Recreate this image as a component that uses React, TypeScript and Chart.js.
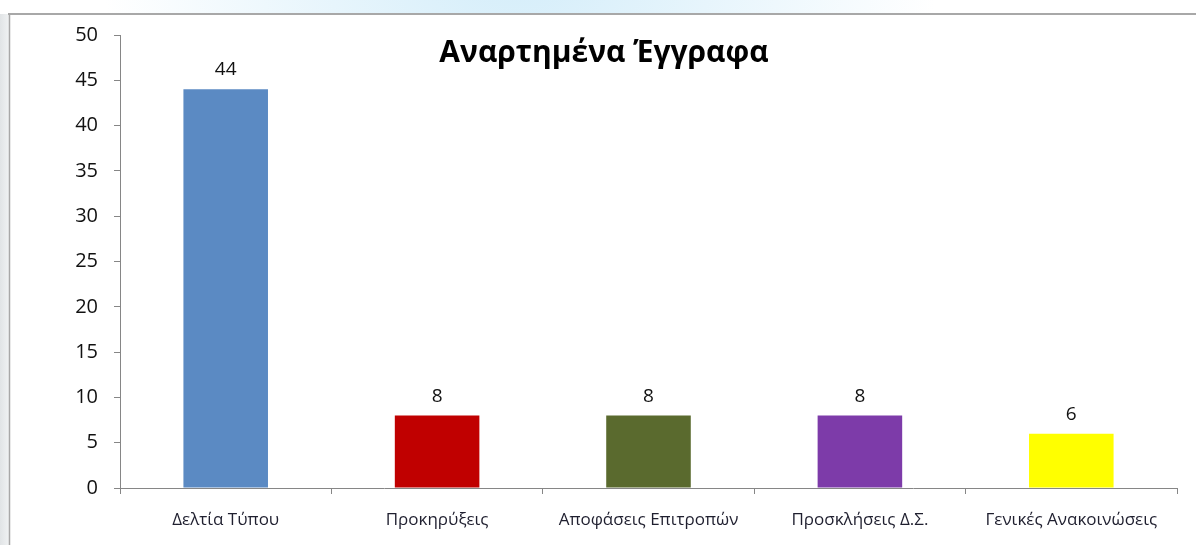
import React, { useEffect, useRef } from "react";
import { Chart, registerables } from "chart.js";

Chart.register(...registerables);

const title = "Αναρτημένα Έγγραφα";
const categories = [
  "Δελτία Τύπου",
  "Προκηρύξεις",
  "Αποφάσεις Επιτροπών",
  "Προσκλήσεις Δ.Σ.",
  "Γενικές Ανακοινώσεις",
];
const values = [44, 8, 8, 8, 6];
const barColors = ["#5B8AC3", "#C00000", "#5A6A2E", "#7D3BA9", "#FFFF00"];
const yMin = 0;
const yMax = 50;
const yStep = 5;

const FONT = "'Open Sans', 'Noto Sans', sans-serif";

const backgroundPlugin = {
  id: "bgDecor",
  beforeDraw(chart: any) {
    const ctx = chart.ctx;
    const w = chart.width;
    const h = chart.height;
    ctx.save();
    ctx.fillStyle = "#ffffff";
    ctx.fillRect(0, 0, w, h);
    const g = ctx.createRadialGradient(520, -60, 40, 520, -60, 420);
    g.addColorStop(0, "rgba(214,238,250,1)");
    g.addColorStop(1, "rgba(214,238,250,0)");
    ctx.fillStyle = g;
    ctx.fillRect(0, 0, w, 14);
    const g2 = ctx.createLinearGradient(0, 0, 9, 0);
    g2.addColorStop(0, "rgba(225,228,230,1)");
    g2.addColorStop(1, "rgba(240,242,243,1)");
    ctx.fillStyle = g2;
    ctx.fillRect(0, 14, 9, h - 14);
    ctx.strokeStyle = "#a8a8a8";
    ctx.lineWidth = 2;
    ctx.beginPath();
    ctx.moveTo(8, 14);
    ctx.lineTo(w, 14);
    ctx.stroke();
    ctx.lineWidth = 1.5;
    ctx.beginPath();
    ctx.moveTo(9.5, 13);
    ctx.lineTo(9.5, h);
    ctx.stroke();
    ctx.restore();
  },
};

const titlePlugin = {
  id: "titleText",
  afterDraw(chart: any) {
    const ctx = chart.ctx;
    ctx.save();
    ctx.font = `bold 30px ${FONT}`;
    ctx.fillStyle = "#000000";
    ctx.textAlign = "center";
    ctx.textBaseline = "alphabetic";
    ctx.fillText(title, 604, 62);
    ctx.restore();
  },
};

const valueLabelPlugin = {
  id: "valueLabels",
  afterDatasetsDraw(chart: any) {
    const ctx = chart.ctx;
    const meta = chart.getDatasetMeta(0);
    ctx.save();
    ctx.font = `19px ${FONT}`;
    ctx.fillStyle = "#111111";
    ctx.textAlign = "center";
    ctx.textBaseline = "alphabetic";
    meta.data.forEach((bar: any, i: number) => {
      ctx.fillText(String(values[i]), bar.x, bar.y - 14);
    });
    ctx.restore();
  },
};

export default function App() {
  const ref = useRef<HTMLCanvasElement | null>(null);

  useEffect(() => {
    if (!ref.current) return;
    const chart = new Chart(ref.current, {
      type: "bar",
      data: {
        labels: categories,
        datasets: [
          {
            data: values,
            backgroundColor: barColors,
            borderWidth: 0,
            barPercentage: 0.4,
            categoryPercentage: 1,
          },
        ],
      },
      options: {
        responsive: false,
        animation: false,
        layout: { padding: { left: 0, right: 19, top: 35, bottom: 0 } },
        plugins: {
          legend: { display: false },
          tooltip: { enabled: false },
          title: { display: false },
        },
        scales: {
          x: {
            grid: {
              display: true,
              drawOnChartArea: false,
              drawTicks: true,
              tickLength: 6,
              color: "#868686",
              offset: true,
            },
            border: { display: true, color: "#868686", width: 1 },
            ticks: {
              color: "#1f1f2f",
              font: { family: FONT, size: 17 },
              padding: 16,
              maxRotation: 0,
              autoSkip: false,
            },
            afterFit(scale: any) {
              scale.height = 57;
            },
          },
          y: {
            min: yMin,
            max: yMax,
            grid: {
              display: true,
              drawOnChartArea: false,
              drawTicks: true,
              tickLength: 6,
              color: "#868686",
            },
            border: { display: true, color: "#868686", width: 1 },
            ticks: {
              stepSize: yStep,
              color: "#111111",
              font: { family: FONT, size: 20 },
              padding: 16,
            },
            afterFit(scale: any) {
              scale.width = 120;
            },
          },
        },
      },
      plugins: [backgroundPlugin, titlePlugin, valueLabelPlugin],
    });
    return () => chart.destroy();
  }, []);

  return (
    <canvas
      ref={ref}
      width={1196}
      height={545}
      style={{ position: "fixed", left: 0, top: 0, display: "block" }}
    />
  );
}
